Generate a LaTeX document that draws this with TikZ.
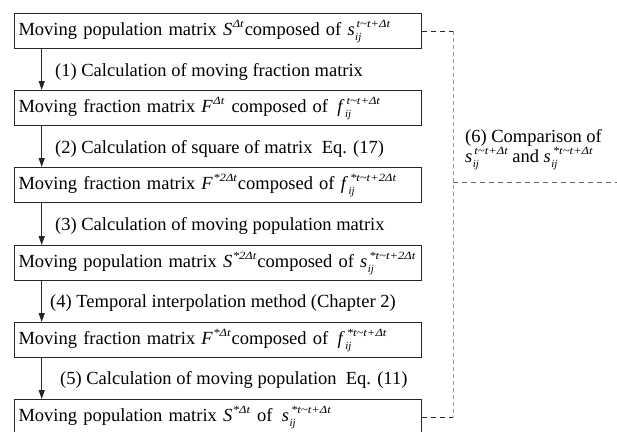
\documentclass[tikz,border=0pt]{standalone}
\usepackage{fontspec}
\usepackage{graphicx}
\setmainfont{Liberation Serif}
\usetikzlibrary{arrows.meta,calc}
\newcommand\ssz[1]{\scalebox{1.15}[1]{\fontsize{11}{11}\selectfont\itshape #1}}
\newcommand\tl{\textasciitilde}
\newcommand\supsc[1]{\kern0.5pt\raisebox{8.5pt}{\ssz{#1}}\kern1pt}
\newcommand\tens[3]{\textit{#1}\rlap{\kern0.5pt\raisebox{-4.5pt}{\fontsize{11}{11}\selectfont\itshape #2}}\kern2pt\raisebox{8.5pt}{\ssz{#3}}}
\tikzset{
  box/.style={draw=black!85, line width=1.1pt, anchor=north west, minimum height=35pt,
    text width=399pt, inner sep=4pt, align=left, font=\fontsize{18.5}{22}\selectfont},
  lbl/.style={anchor=west, inner sep=0pt, font=\fontsize{18.5}{22}\selectfont},
  arr/.style={draw=black!85, line width=1.1pt, -{Triangle[length=9pt,width=6pt]}},
  dk/.style={draw=black!85, line width=1pt, dash pattern=on 5pt off 4pt},
  lt/.style={draw=black!40, line width=1pt, dash pattern=on 4pt off 3pt},
  md/.style={draw=black!60, line width=1pt, dash pattern=on 5pt off 4pt}
}
\begin{document}
\begin{tikzpicture}[x=1pt,y=-1pt]
\useasboundingbox (0,0) rectangle (617,431);
\node[box] (b1) at (14,13) {Moving population matrix \textit{S}\supsc{Δt}composed of \tens{s}{ij}{t\tl t+Δt}};
\node[box] (b2) at (14,90) {Moving fraction matrix \textit{F}\supsc{Δt}\ composed of \,\tens{f}{ij}{t\tl t+Δt}};
\node[box] (b3) at (14,167) {Moving fraction matrix \textit{F}\supsc{*2Δt}composed of \tens{f}{ij}{*t\tl t+2Δt}};
\node[box] (b4) at (14,245) {Moving population matrix \textit{S}\supsc{*2Δt}composed of \tens{s}{ij}{*t\tl t+2Δt}};
\node[box] (b5) at (14,322) {Moving fraction matrix \textit{F}\supsc{*Δt}composed of \,\tens{f}{ij}{*t\tl t+Δt}};
\node[box] (b6) at (14,399) {Moving population matrix \textit{S}\supsc{*Δt}\ of \,\tens{s}{ij}{*t\tl t+Δt}};

\foreach \a/\b in {b1/b2,b2/b3,b3/b4,b4/b5,b5/b6}
  \draw[arr] ([xshift=27.7pt]\a.south west) -- ([xshift=27.7pt]\b.north west);

\node[lbl] (l1) at (55,71.5) {(1) Calculation of moving fraction matrix};
\node[lbl] (l2) at (55,148.7) {(2) Calculation of square of matrix\ \ Eq. (17)};
\node[lbl] (l3) at (55,225.9) {(3) Calculation of moving population matrix};
\node[lbl] (l4) at (50,303.1) {(4) Temporal interpolation method (Chapter 2)};
\node[lbl] (l5) at (60,380.3) {(5) Calculation of moving population\ \ Eq. (11)};

\coordinate (vx) at (453,0);
\coordinate (h1) at (453,182);
\coordinate (h2) at (617,182);
\draw[dk] (b1.east) -- (b1.east -| vx);
\draw[dk] (b6.east) -- (b6.east -| vx);
\draw[lt] (b1.east -| vx) -- (b6.east -| vx);
\draw[md] (h1) -- (h2);

\node[anchor=north west, inner sep=0pt, align=left, font=\fontsize{18.5}{18}\selectfont] (l6) at (465,129)
  {(6) Comparison of\\\tens{s}{ij}{t\tl t+Δt} and \tens{s}{ij}{*t\tl t+Δt}};
\end{tikzpicture}
\end{document}
